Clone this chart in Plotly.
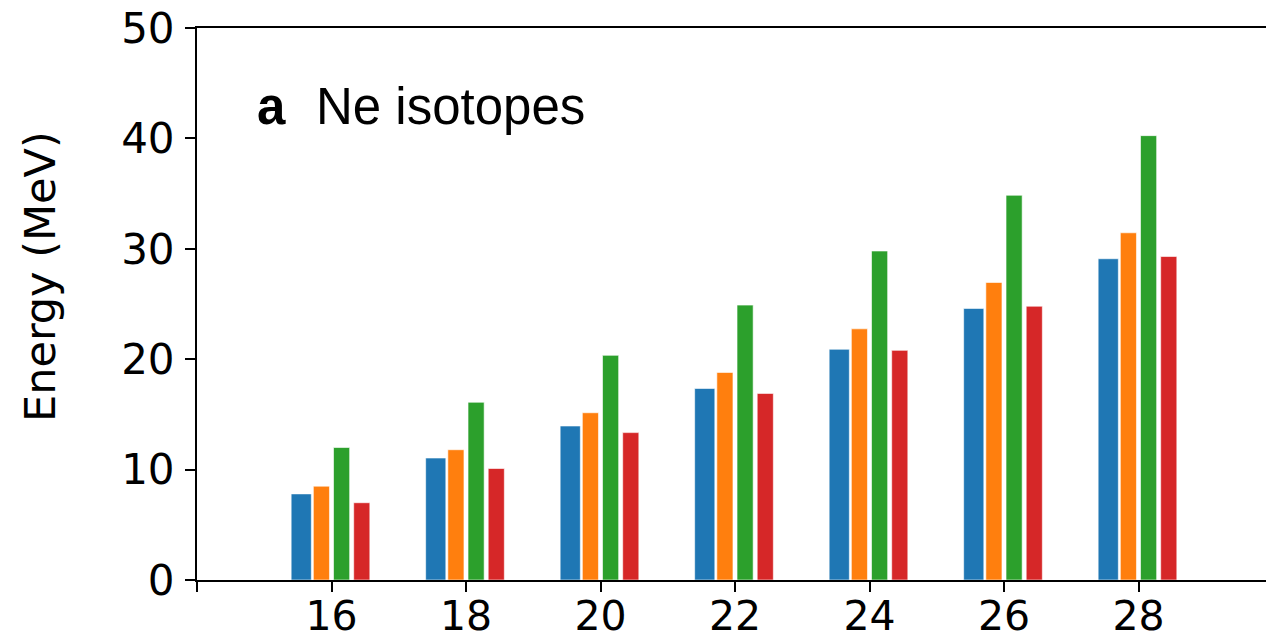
import plotly.graph_objects as go

mass_numbers = [16, 18, 20, 22, 24, 26, 28]
series_a = [7.8, 11.05, 13.95, 17.35, 20.9, 24.6, 29.1]   # blue
series_b = [8.5, 11.8, 15.15, 18.8, 22.75, 26.95, 31.45]  # orange
series_c = [12.0, 16.1, 20.35, 24.9, 29.8, 34.85, 40.25]  # green
series_d = [7.0, 10.1, 13.35, 16.9, 20.8, 24.8, 29.3]     # red
tick_vals = [14, 16, 18, 20, 22, 24, 26, 28]
tick_text = ["", "16", "18", "20", "22", "24", "26", "28"]

colors = ["#1f77b4", "#ff7f0e", "#2ca02c", "#d62728"]
centers = [-0.45, -0.15, 0.15, 0.45]
widths = [0.3, 0.24, 0.24, 0.24]

W, H = 1266, 640
L, R, T, B = 197, 0, 28, 60
plot_w = W - L - R
plot_h = H - T - B
x0 = 14
px_per_unit = 67.25
x1 = x0 + plot_w / px_per_unit

fig = go.Figure()
for vals, c, off, w in zip([series_a, series_b, series_c, series_d], colors, centers, widths):
    fig.add_trace(go.Bar(
        x=mass_numbers, y=vals, width=w, offset=off - w / 2,
        marker=dict(color=c, line=dict(color="rgba(255,255,255,0.6)", width=1)),
        showlegend=False,
    ))

fig.update_layout(
    width=W, height=H,
    margin=dict(l=L, r=R, t=T, b=B, autoexpand=False),
    paper_bgcolor="white", plot_bgcolor="white",
    barmode="overlay",
    font=dict(family="DejaVu Sans", size=42, color="black"),
)
fig.update_xaxes(
    range=[x0, x1], tickvals=tick_vals, ticktext=tick_text,
    showline=True, linecolor="black", linewidth=2, mirror=True,
    ticks="outside", ticklen=10, tickwidth=2, tickcolor="black",
    showgrid=False, zeroline=False, ticklabelstandoff=-11, automargin=False,
    tickfont=dict(family="DejaVu Sans", size=41),
)
fig.update_yaxes(
    range=[0, 50], tickvals=[0, 10, 20, 30, 40, 50],
    showline=True, linecolor="black", linewidth=2,
    ticks="outside", ticklen=10, tickwidth=2, tickcolor="black",
    showgrid=False, zeroline=False, ticklabelstandoff=2, automargin=False,
    tickfont=dict(family="DejaVu Sans", size=42),
)

def px_x(p):
    return (p - L) / plot_w

def px_y(p):
    return (H - B - p) / plot_h

fig.add_annotation(
    text="Energy (MeV)", textangle=-90, xref="paper", yref="paper",
    x=px_x(40), y=px_y(277), xanchor="center", yanchor="middle",
    showarrow=False, font=dict(family="DejaVu Sans", size=43, color="black"),
)
fig.add_annotation(
    text="a", xref="paper", yref="paper",
    x=px_x(255), y=px_y(107), xanchor="left", yanchor="middle",
    showarrow=False, font=dict(family="Liberation Sans", size=51, color="black", weight=700),
)
fig.add_annotation(
    text="Ne isotopes", xref="paper", yref="paper",
    x=px_x(314), y=px_y(107), xanchor="left", yanchor="middle",
    showarrow=False, font=dict(family="Liberation Sans", size=51, color="black"),
)

fig.write_html("out.html")
